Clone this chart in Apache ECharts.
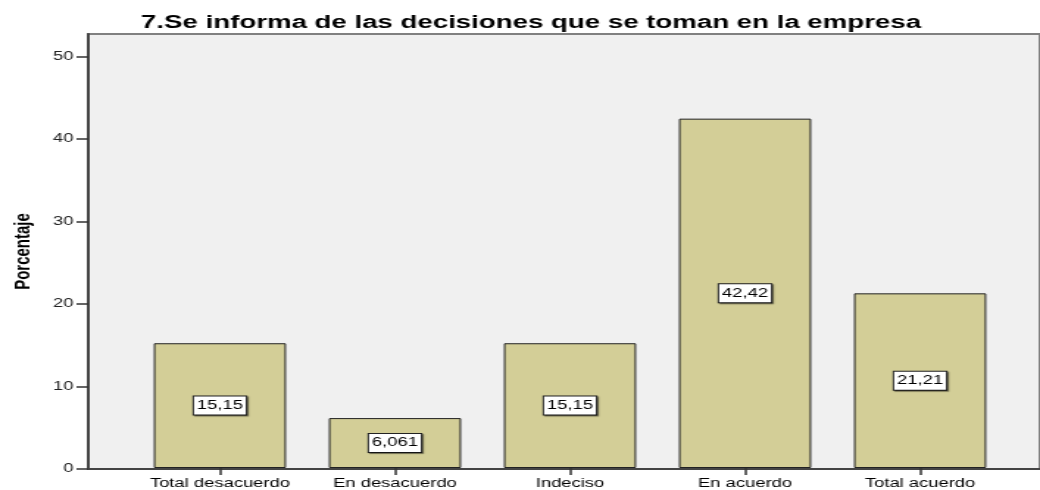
<!DOCTYPE html>
<html>
<head>
<meta charset="utf-8">
<script src="https://cdn.jsdelivr.net/npm/echarts@6/dist/echarts.min.js"></script>
<style>
  html, body { margin: 0; padding: 0; background: #fff; overflow: hidden; }
  /* the original picture is an SPSS chart stretched horizontally; draw narrow and stretch */
  #chart { width: 707px; height: 490px; transform: scaleX(1.471); transform-origin: 0 0; }
</style>
</head>
<body>
<div id="chart"></div>
<script>
var categories = ['Total desacuerdo', 'En desacuerdo', 'Indeciso', 'En acuerdo', 'Total acuerdo'];
var percentages = [15.15, 6.061, 15.15, 42.42, 21.21];
var yTicks = [0, 10, 20, 30, 40, 50];

var chart = echarts.init(document.getElementById('chart'));

var font = 'Arial, "Liberation Sans", sans-serif';

var option = {
    animation: false,
    title: {
        text: '7.Se informa de las decisiones que se toman en la empresa',
        left: 356,
        textAlign: 'center',
        top: 8,
        textStyle: {
            fontFamily: font,
            fontSize: 18.8,
            fontWeight: 'bold',
            color: '#000'
        }
    },
    grid: [{
        // background frame
        left: 58, right: -3, top: 34, bottom: 21,
        show: true,
        backgroundColor: '#f0f0f0',
        borderColor: '#808080',
        borderWidth: 2
    }, {
        left: 90, right: 22, top: 34, bottom: 21
    }],
    xAxis: [{
        gridIndex: 0,
        type: 'category',
        data: [''],
        axisLine: { lineStyle: { color: '#444', width: 2 } },
        axisTick: { show: false },
        axisLabel: { show: false }
    }, {
        gridIndex: 1,
        type: 'category',
        data: categories,
        axisLine: { show: false },
        axisTick: { show: true, alignWithLabel: true, length: 7, lineStyle: { color: '#333', width: 1.5 } },
        axisLabel: { interval: 0, fontFamily: font, fontSize: 12.5, color: '#000', margin: 9 }
    }],
    yAxis: [{
        gridIndex: 0,
        type: 'value',
        min: 0,
        max: 52.7,
        interval: 10,
        name: 'Porcentaje',
        nameLocation: 'middle',
        nameGap: 37,
        nameTextStyle: {
            fontFamily: font,
            fontSize: 15,
            fontWeight: 'bold',
            color: '#000'
        },
        axisLine: { show: true, lineStyle: { color: '#444', width: 2 } },
        axisTick: { show: true, length: 8, customValues: yTicks, lineStyle: { color: '#333', width: 1.5 } },
        axisLabel: { customValues: yTicks, fontFamily: font, fontSize: 12.5, color: '#222', margin: 10 },
        splitLine: { show: false }
    }, {
        gridIndex: 1,
        type: 'value',
        min: 0,
        max: 52.7,
        show: false,
        splitLine: { show: false }
    }],
    series: [{
        type: 'bar',
        xAxisIndex: 1,
        yAxisIndex: 1,
        data: percentages,
        barCategoryGap: '24.5%',
        itemStyle: {
            color: '#d3ce97',
            borderColor: '#222',
            borderWidth: 1
        },
        label: {
            show: true,
            position: 'inside',
            formatter: function (p) { return String(p.value).replace('.', ','); },
            fontFamily: font,
            fontSize: 12.5,
            color: '#000',
            backgroundColor: '#fff',
            borderColor: '#222',
            borderWidth: 1,
            padding: [3, 2, 2, 2],
            shadowColor: 'rgba(0,0,0,0.45)',
            shadowOffsetX: 1,
            shadowOffsetY: 1,
            shadowBlur: 1
        }
    }]
};

chart.setOption(option);
</script>
</body>
</html>
